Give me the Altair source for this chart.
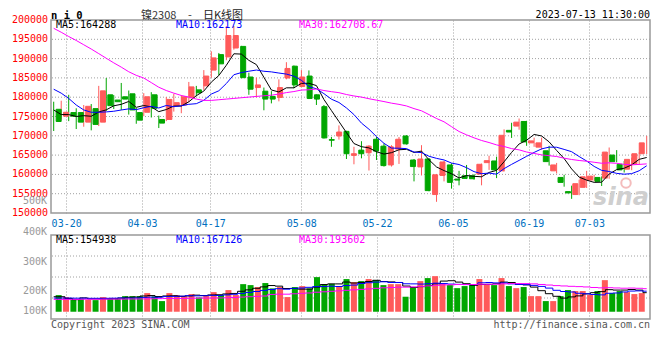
import altair as alt
import pandas as pd

# ---------------- data ----------------
dates = ["03-16", "03-17", "03-20", "03-21", "03-22", "03-23", "03-24", "03-27", "03-28", "03-29",
         "03-30", "03-31", "04-03", "04-04", "04-06", "04-07", "04-10", "04-11", "04-12", "04-13",
         "04-14", "04-17", "04-18", "04-19", "04-20", "04-21", "04-24", "04-25", "04-26", "04-27",
         "04-28", "05-04", "05-05", "05-08", "05-09", "05-10", "05-11", "05-12", "05-15", "05-16",
         "05-17", "05-18", "05-19", "05-22", "05-23", "05-24", "05-25", "05-26", "05-29", "05-30",
         "05-31", "06-01", "06-02", "06-05", "06-06", "06-07", "06-08", "06-09", "06-12", "06-13",
         "06-14", "06-15", "06-16", "06-19", "06-20", "06-21", "06-26", "06-27", "06-28", "06-29",
         "06-30", "07-03", "07-04", "07-05", "07-06", "07-07", "07-10", "07-11", "07-12", "07-13"]

opens = [176870, 175080, 176020, 176020, 173540, 177040, 173540, 180620, 179260, 180110,
         180880, 176020, 176100, 180620, 174230, 174230, 177810, 177980, 179860, 181900,
         182930, 187020, 191030, 190430, 192740, 193160, 185230, 182500, 181560, 180200,
         179940, 184970, 188040, 182760, 185480, 180620, 177550, 169020, 169960, 171150,
         164930, 166290, 165610, 169110, 167320, 162450, 166550, 169960, 163730, 161940,
         163990, 154780, 159720, 162450, 158790, 159640, 159640, 160070, 163050, 163480,
         160920, 171410, 172520, 173710, 168170, 167060, 166120, 160920, 159210, 155540,
         154780, 156650, 158530, 159210, 159040, 165010, 162620, 161350, 162710, 165350]
highs = [178830, 179090, 180620, 177130, 177980, 178230, 182930, 184970, 180540, 183690,
         181730, 177210, 181050, 181300, 175250, 180030, 180880, 180540, 183950, 182930,
         187020, 191880, 191460, 198450, 198450, 193300, 186340, 185060, 182500, 181560,
         184630, 189070, 188200, 187020, 186940, 180700, 177980, 169700, 172690, 171300,
         167150, 168600, 167570, 169700, 168000, 167570, 169700, 170130, 163990, 167570,
         164150, 160070, 163480, 162880, 160920, 162450, 160070, 162800, 164840, 164590,
         171670, 173370, 174480, 173880, 169530, 169530, 167400, 162970, 159900, 157080,
         158620, 160920, 159900, 159470, 166970, 166290, 163480, 164330, 165700, 169960]
lows = [171240, 174230, 173800, 171750, 172350, 171410, 172520, 176440, 176950, 176700,
        175500, 173120, 175080, 174740, 172010, 173800, 176270, 175850, 178660, 180280,
        181900, 185060, 185660, 189580, 192310, 184900, 180620, 179940, 176610, 178400,
        178920, 184630, 182330, 182580, 179510, 177980, 169300, 167150, 169020, 163990,
        162620, 164160, 161000, 163730, 162030, 162030, 162710, 167740, 158190, 159720,
        155630, 152900, 158190, 156310, 157170, 158790, 158620, 157170, 161170, 159040,
        160750, 169450, 171580, 167400, 167150, 166380, 162280, 160240, 156820, 153670,
        154610, 156480, 158190, 156990, 158870, 163140, 160490, 161090, 162450, 165270]
closes = [173710, 176100, 175080, 173540, 177640, 172950, 181650, 177810, 178830, 179510,
          176700, 174050, 180110, 177130, 173290, 179430, 178580, 180110, 182670, 181130,
          185480, 190180, 188640, 195980, 195980, 185060, 182070, 183180, 179510, 179510,
          182500, 187450, 183180, 185230, 179680, 179510, 169450, 168850, 170980, 165350,
          165350, 165350, 167320, 166040, 162280, 167150, 169110, 167910, 162030, 163990,
          155800, 159900, 163220, 157930, 158530, 158960, 158870, 162620, 163560, 161170,
          170130, 170980, 173540, 168420, 168680, 168170, 163310, 162450, 157930, 155200,
          157590, 159380, 159550, 158190, 165780, 163310, 161170, 163900, 165350, 168170]
volumes = [137500, 121000, 107000, 107000, 99000, 96000, 121000, 110000, 110000, 129000,
           129000, 129000, 154000, 127000, 88000, 154000, 138000, 129000, 146000, 118000,
           138000, 162000, 138000, 179000, 138000, 228000, 220000, 204000, 237000, 193000,
           204000, 121000, 204000, 212000, 193000, 286000, 228000, 231000, 212000, 270000,
           245000, 253000, 270000, 261000, 220000, 228000, 228000, 124000, 204000, 253000,
           278000, 294000, 237000, 220000, 195000, 212000, 228000, 270000, 228000, 220000,
           278000, 212000, 195000, 204000, 129000, 129000, 88000, 88000, 129000, 179000,
           171000, 171000, 138000, 171000, 261000, 154000, 171000, 162000, 146000, 154000]

# moving-average values at the left edge (their earlier history is off the chart)
ma5_head = [176700, 175500, 175500, 175000]
ma10_head = [182070, 181050, 179680, 177980, 176700, 176100, 176100, 176190, 176360]
ma30_head = [197850, 196830, 195720, 194700, 193590, 192480, 191290, 190090, 188900, 187790,
             186590, 185660, 184970, 183780, 182580, 181730, 181050, 180450, 180030, 179510,
             179170, 179170, 179340, 179510, 179680, 179860, 180030, 180200, 180370]
vma5_head = [124000, 124000, 110000, 100000]
vma10_head = [113000, 113000, 113000, 112000, 112000, 111000, 111000, 111000, 112000]
vma30_head = [102000, 102000, 102000, 102000, 103000, 103000, 103000, 104000, 104000, 104000,
              105000, 105000, 106000, 107000, 108000, 109000, 110000, 110000, 111000, 112000,
              113000, 113000, 114000, 115000, 118000, 121000, 124000, 127000, 130000]

axis_dates = ["03-20", "04-03", "04-17", "05-08", "05-22", "06-05", "06-19", "07-03"]
price_ticks = [150000, 155000, 160000, 165000, 170000, 175000, 180000, 185000, 190000, 195000, 200000]

title_code = "n i 0"
title_name = "镍2308"
title_kind = "日K线图"
stamp = "2023-07-13 11:30:00"
price_ma_text = ["MA5:164288", "MA10:162173", "MA30:162708.67"]
vol_ma_text = ["MA5:154938", "MA10:167126", "MA30:193602"]
vol_axis_text = ["500K", "400K", "300K", "200K", "100K"]
left_note = "Copyright 2023 SINA.COM"
right_note = "http://finance.sina.com.cn"
logo_word = "sina"

# ---------------- styles ----------------
RED = "#ff5a5a"
GREEN = "#00a600"
GRID = "#a0a0a0"
MONO = "DejaVu Sans Mono"
CJK = "Noto Sans CJK SC"
W = 599
H_MAIN = 193
H_VOL = 84


def moving(values, n, head):
    s = pd.Series(values, dtype=float).rolling(n).mean()
    s.iloc[:len(head)] = head
    return s.values


n = len(dates)
df = pd.DataFrame({
    "i": list(range(n)), "date": dates, "open": opens, "high": highs,
    "low": lows, "close": closes, "vol": volumes,
})
df["dir"] = ["up" if c >= o else "down" for o, c in zip(opens, closes)]
df["ma5"] = moving(closes, 5, ma5_head)
df["ma10"] = moving(closes, 10, ma10_head)
df["ma30"] = moving(closes, 30, ma30_head)
df["vma5"] = moving(volumes, 5, vma5_head)
df["vma10"] = moving(volumes, 10, vma10_head)
df["vma30"] = moving(volumes, 30, vma30_head)

grid_idx = [dates.index(d) for d in axis_dates]
grid_df = pd.DataFrame({"gi": grid_idx})
label_expr = ("[" + ",".join("'%s'" % d for d in axis_dates) + "][indexof(["
              + ",".join(str(v) for v in grid_idx) + "], datum.value)]")

xs = alt.Scale(domain=[-0.36, n - 1 + 0.44], nice=False, zero=False)
X = alt.X("i:Q", scale=xs, axis=None)
dir_color = alt.Scale(domain=["up", "down"], range=[RED, GREEN])


def text(t, x, y, color, size=10, font=MONO, align="left", baseline="middle",
         weight="normal", style="normal", opacity=1.0):
    return alt.Chart(pd.DataFrame({"t": [t]})).mark_text(
        align=align, baseline=baseline, color=color, font=font, fontSize=size,
        fontWeight=weight, fontStyle=style, opacity=opacity
    ).encode(text="t:N", x=alt.value(x), y=alt.value(y))


def date_grid(show_labels):
    return alt.Chart(grid_df).mark_rule(strokeOpacity=0).encode(
        x=alt.X("gi:Q", scale=alt.Scale(domain=[0, n - 1], nice=False, zero=False),
                axis=alt.Axis(values=grid_idx, labelExpr=label_expr, labels=show_labels,
                              grid=True, gridDash=[1, 2], gridColor=GRID, gridWidth=1,
                              ticks=False, domain=False, labelColor="#0070c0",
                              labelFont=MONO, labelFontSize=10, labelPadding=5,
                              labelFlush=False, labelOverlap=False, title=None))
    )


def hgrid(values, scale):
    return alt.Chart(pd.DataFrame({"g": values})).mark_rule(
        color=GRID, strokeWidth=1, strokeDash=[1, 2]
    ).encode(y=alt.Y("g:Q", scale=scale, axis=None))


# ---------------- price panel ----------------
ys = alt.Scale(domain=[150000, 200000], nice=False, zero=False)
base = alt.Chart(df)

price_labels = alt.Chart(pd.DataFrame({"p": price_ticks})).mark_text(
    align="right", baseline="middle", color="#ff0000", font=MONO, fontSize=10
).encode(x=alt.value(-3), y=alt.Y("p:Q", scale=ys, axis=None), text=alt.Text("p:Q", format="d"))

wicks = base.mark_rule(strokeWidth=1).encode(
    x=X,
    y=alt.Y("low:Q", scale=ys, axis=None),
    y2="high:Q",
    color=alt.Color("dir:N", scale=dir_color, legend=None),
)
bodies = base.mark_bar(size=5, strokeWidth=1).encode(
    x=X,
    y=alt.Y("open:Q", scale=ys, axis=None),
    y2="close:Q",
    color=alt.Color("dir:N", scale=dir_color, legend=None),
    stroke=alt.Stroke("dir:N", scale=dir_color, legend=None),
)


def ma_line(field, color, scale, step=False):
    return base.mark_line(color=color, strokeWidth=1,
                          interpolate="step" if step else "linear").encode(
        x=X, y=alt.Y(field + ":Q", scale=scale, axis=None))


logo_eye = alt.Chart(pd.DataFrame({"t": [0]})).mark_point(
    shape="circle", size=90, filled=False, color="#f0a0a0", strokeWidth=2, opacity=0.7
).encode(x=alt.value(575), y=alt.value(163))

price_layers = [
    hgrid(price_ticks[1:-1], ys),
    date_grid(True),
    price_labels,
    logo_eye,
    text(logo_word, 570, 178, "#cfcfcf", size=24, font="DejaVu Sans", align="center",
         weight="bold", style="italic"),
    wicks, bodies,
    ma_line("ma5", "#000000", ys), ma_line("ma10", "#0000ff", ys), ma_line("ma30", "#ff00ff", ys),
    text(price_ma_text[0], 5, 5, "#000000"),
    text(price_ma_text[1], 125, 5, "#0000ff"),
    text(price_ma_text[2], 248, 5, "#ff00ff"),
    text(title_code, 0, -1.5, "#000000", size=10.5, weight="bold", baseline="alphabetic"),
    text(title_name, 90, -1, "#333333", size=11, font=CJK, baseline="alphabetic"),
    text("-", 139, -1, "#333333", size=11, font=CJK, align="center", baseline="alphabetic"),
    text(title_kind, 152, -1, "#222222", size=11, font=CJK, baseline="alphabetic"),
    text(stamp, W, -2, "#000000", align="right", baseline="alphabetic"),
]
price = alt.layer(*price_layers).resolve_scale(x="independent").properties(
    width=W, height=H_MAIN)

# ---------------- volume panel ----------------
vlo, vhi = -60000, 634000
vs = alt.Scale(domain=[vlo, vhi], nice=False, zero=False)
vgrid = [vlo + (vhi - vlo) * k / 4 for k in (1, 2, 3)]
vbars = base.mark_bar(size=6).encode(
    x=X,
    y=alt.Y("vol:Q", scale=vs, axis=None),
    y2=alt.datum(0),
    color=alt.Color("dir:N", scale=dir_color, legend=None),
)
vol_layers = [
    hgrid(vgrid, vs),
    date_grid(False),
    vbars,
    ma_line("vma5", "#000000", vs, step=True),
    ma_line("vma10", "#0000ff", vs, step=True),
    ma_line("vma30", "#ff00ff", vs, step=True),
    text(vol_ma_text[0], 5, 5, "#000000"),
    text(vol_ma_text[1], 125, 5, "#0000ff"),
    text(vol_ma_text[2], 248, 5, "#ff00ff"),
    text(left_note, 0, 90, "#555555"),
    text(right_note, W, 90, "#555555", align="right"),
]
for t, py in zip(vol_axis_text, [-34, -3.3, 26.7, 56, 76]):
    vol_layers.append(text(t, -4, py, "#999999", align="right"))

volume = alt.layer(*vol_layers).resolve_scale(x="independent").properties(
    width=W, height=H_VOL)

chart = alt.vconcat(price, volume, spacing=22, bounds="flush").properties(
    padding={"left": 3, "top": 1, "right": 0, "bottom": 0}
).configure_view(stroke="#999999", strokeWidth=1.5)

chart.save("out.html", embed_options={"renderer": "svg", "actions": False})
